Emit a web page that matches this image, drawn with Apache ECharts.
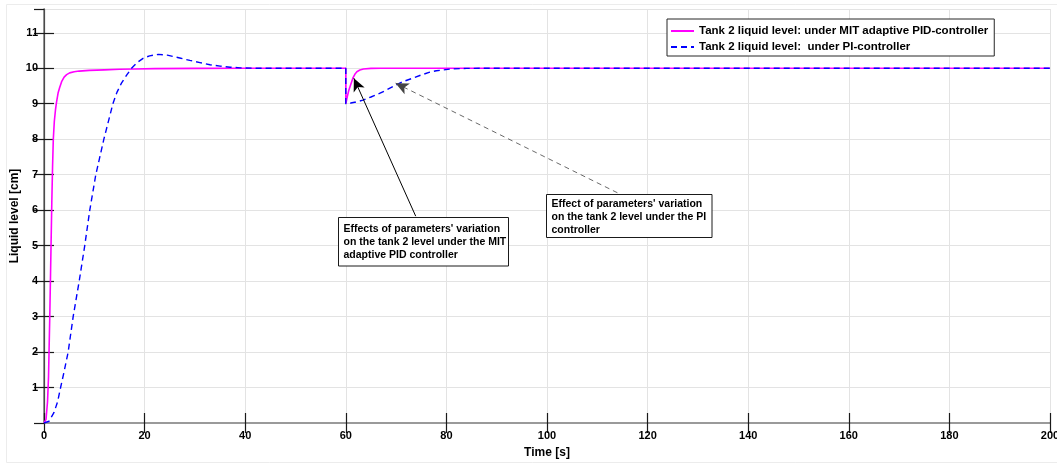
<!DOCTYPE html>
<html>
<head>
<meta charset="utf-8">
<script src="https://cdn.jsdelivr.net/npm/echarts@6/dist/echarts.min.js"></script>
<style>
html,body{margin:0;padding:0;background:#fff;}
#chart{width:1057px;height:464px;}
</style>
</head>
<body>
<div id="chart"></div>
<script>
// ---- data ----
const seriesNames = [
  'Tank 2 liquid level: under MIT adaptive PID-controller',
  'Tank 2 liquid level:  under PI-controller'
];
// MIT adaptive PID response
const tPid = [0, 0.4, 0.7, 0.9, 1.0, 1.15, 1.3, 1.4, 1.55, 1.7, 1.85, 2.05, 2.3, 2.5, 2.8, 3.1, 3.5, 4.0, 4.5, 5.1, 6, 7, 9, 12, 15, 18, 22, 30, 40,
  60, 60, 60.3, 60.6, 61, 61.4, 61.8, 62.2, 62.8, 63.5, 65, 67, 200];
const vPid = [0, 0.1, 0.6, 1.3, 2.0, 3.0, 4.2, 5.0, 6.2, 7.2, 8.0, 8.5, 8.85, 9.05, 9.3, 9.45, 9.62, 9.75, 9.82, 9.87, 9.9, 9.92, 9.94, 9.955, 9.97, 9.98, 9.99, 9.995, 10,
  10, 9.0, 9.2, 9.38, 9.55, 9.72, 9.83, 9.9, 9.95, 9.98, 9.995, 10, 10];
// PI response
const tPi = [0, 1, 2, 2.7, 3.3, 4, 4.8, 5.8, 7, 8.1, 9.1, 10.3, 11.9, 13.7, 14.5, 15.4, 16.5, 17.4, 18.5, 19.7, 21, 22.7, 24.5, 27, 29, 31, 33, 35, 37, 39, 42,
  60, 60, 61, 62, 63.4, 65, 66.7, 68, 70, 71.5, 73.3, 75, 76.7, 78, 79.3, 81, 84, 88, 200];
const vPi = [0, 0.05, 0.3, 0.6, 1.0, 1.45, 2.0, 3.0, 4.0, 5.0, 6.0, 7.0, 8.0, 9.0, 9.32, 9.58, 9.82, 10.0, 10.16, 10.28, 10.35, 10.39, 10.37, 10.29, 10.22, 10.16, 10.1, 10.06, 10.03, 10.01, 10.0,
  10, 9.0, 9.02, 9.05, 9.1, 9.19, 9.29, 9.38, 9.53, 9.63, 9.72, 9.81, 9.89, 9.93, 9.95, 9.98, 9.995, 10, 10];
// annotation arrows: [tailT, tailV, tipT, tipV]
const arrowPid = [73.9, 5.83, 61.6, 9.72];
const arrowPi = [114.0, 6.49, 69.9, 9.58];
const notePid = ["Effects of parameters' variation", 'on the tank 2 level under the MIT', 'adaptive PID controller'];
const notePi = ["Effect of parameters' variation", 'on the tank 2 level under the PI', 'controller'];
const xTickStep = 20, yTickStep = 1;

const zip = (t, v) => t.map((x, i) => [x, v[i]]);
const FONT = '"Liberation Sans", Arial, sans-serif';
const axisGray = '#9a9a9a';
const tickCol = '#1a1a1a';

const chart = echarts.init(document.getElementById('chart'), null, {renderer: 'canvas'});
const baseX = {type: 'value', min: 0, max: 200, interval: xTickStep};
const baseY = {type: 'value', min: 0, max: 11.67, interval: yTickStep};
chart.setOption({
  animation: false,
  backgroundColor: '#fff',
  grid: {left: 44, right: 7, top: 9, bottom: 41, containLabel: false, outerBoundsMode: 'none'},
  legend: {
    orient: 'vertical', left: 667, top: 19,
    data: seriesNames,
    backgroundColor: '#fff', borderColor: '#262626', borderWidth: 1,
    padding: [6, 6, 3, 3], itemGap: 4, itemWidth: 23, itemHeight: 12,
    itemStyle: {color: 'rgba(0,0,0,0)', borderWidth: 0, opacity: 0},
    textStyle: {fontFamily: FONT, fontWeight: 'bold', fontSize: 11.5, color: '#000'}
  },
  xAxis: [
    Object.assign({}, baseX, {
      position: 'bottom',
      name: 'Time [s]', nameLocation: 'middle', nameGap: 24, nameMoveOverlap: false,
      nameTextStyle: {fontFamily: FONT, fontWeight: 'bold', fontSize: 12, color: '#000'},
      axisLine: {show: true, lineStyle: {color: '#b4b4b4', width: 2}},
      axisTick: {show: true, inside: true, length: 10, lineStyle: {color: tickCol, width: 1.2}},
      axisLabel: {show: true, margin: 7, fontFamily: FONT, fontWeight: 'bold', fontSize: 11, color: '#000', showMaxLabel: true, showMinLabel: true},
      splitLine: {show: true, lineStyle: {color: '#e3e3e3', width: 1}}
    }),
    Object.assign({}, baseX, {
      position: 'top',
      axisLine: {show: true, lineStyle: {color: axisGray, width: 2}},
      axisTick: {show: true, inside: true, length: 10, lineStyle: {color: tickCol, width: 1.2}},
      axisLabel: {show: false}, splitLine: {show: false}
    })
  ],
  yAxis: [
    Object.assign({}, baseY, {
      position: 'left',
      name: 'Liquid level [cm]', nameLocation: 'middle', nameGap: 23, nameMoveOverlap: false,
      nameTextStyle: {fontFamily: FONT, fontWeight: 'bold', fontSize: 12, color: '#000'},
      axisLine: {show: true, lineStyle: {color: '#7a7a7a', width: 1.5}},
      axisTick: {show: true, inside: true, length: 10, lineStyle: {color: tickCol, width: 1.2}},
      axisLabel: {show: true, margin: 6, fontFamily: FONT, fontWeight: 'bold', fontSize: 11, color: '#000',
        showMinLabel: false, showMaxLabel: false,
        formatter: v => (v > 0 && Math.abs(v - Math.round(v)) < 1e-6) ? String(Math.round(v)) : ''},
      splitLine: {show: true, lineStyle: {color: '#e3e3e3', width: 1}}
    }),
    Object.assign({}, baseY, {
      position: 'right',
      axisLine: {show: true, lineStyle: {color: '#4a4a4a', width: 1.2}},
      axisTick: {show: true, inside: true, length: 10, lineStyle: {color: tickCol, width: 1.2}},
      axisLabel: {show: false}, splitLine: {show: false}
    })
  ],
  series: [
    {
      name: seriesNames[0], type: 'line', xAxisIndex: 0, yAxisIndex: 0,
      data: zip(tPid, vPid), showSymbol: false, symbol: 'none',
      lineStyle: {color: '#ff00ff', width: 1.6},
      itemStyle: {color: '#ff00ff'}, z: 3
    },
    {
      name: seriesNames[1], type: 'line', xAxisIndex: 0, yAxisIndex: 0,
      data: zip(tPi, vPi), showSymbol: false, symbol: 'none',
      lineStyle: {color: '#0000ff', width: 1.4, type: [6, 4]},
      itemStyle: {color: '#0000ff'}, z: 4,
      markLine: {
        silent: true, animation: false,
        label: {show: false},
        symbolSize: [9, 13],
        data: [
          [{coord: [arrowPid[0], arrowPid[1]], symbol: 'none', lineStyle: {color: '#000', width: 1, type: 'solid'}},
           {coord: [arrowPid[2], arrowPid[3]], symbol: 'arrow'}],
          [{coord: [arrowPi[0], arrowPi[1]], symbol: 'none', lineStyle: {color: '#444', width: 0.8, type: [5, 4]}},
           {coord: [arrowPi[2], arrowPi[3]], symbol: 'arrow'}]
        ]
      }
    }
  ],
  graphic: [
    {type: 'rect', silent: true, z: 0, shape: {x: 6.5, y: 4.5, width: 1060, height: 458}, style: {fill: 'none', stroke: '#ececec', lineWidth: 1}},
    {type: 'rect', z: 100, shape: {x: 338.5, y: 217.5, width: 170, height: 48.5}, style: {fill: '#fff', stroke: '#1a1a1a', lineWidth: 1}},
    {type: 'text', z: 101, x: 343.5, y: 222.5, style: {text: notePid.join('\n'), font: 'bold 10.5px ' + FONT, fill: '#000', lineHeight: 13, verticalAlign: 'top'}},
    {type: 'rect', z: 100, shape: {x: 546.5, y: 194.5, width: 165.5, height: 43}, style: {fill: '#fff', stroke: '#1a1a1a', lineWidth: 1}},
    {type: 'text', z: 101, x: 551.5, y: 198, style: {text: notePi.join('\n'), font: 'bold 10.5px ' + FONT, fill: '#000', lineHeight: 13, verticalAlign: 'top'}}
  ]
});
</script>
</body>
</html>
